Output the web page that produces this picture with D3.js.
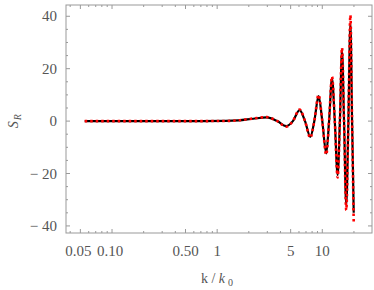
<!DOCTYPE html>
<html>
<head>
<meta charset="utf-8">
<script src="https://cdn.jsdelivr.net/npm/d3@7"></script>
<style>
  body { margin: 0; background: #fff; }
  text { font-family: "Liberation Serif", "DejaVu Serif", serif; }
</style>
</head>
<body>
<div id="chart"></div>
<script>
// k / k0 sample points (shared by both curves)
const kValues = [0.055, 0.1, 0.3, 0.7, 1.2, 1.6, 2.2, 2.97, 3.73, 4.54, 5.25, 6.08, 6.85, 7.69, 8.4, 9.22, 10.0, 10.9, 11.6, 12.37, 13.15, 13.99, 14.7, 15.4, 16.1, 16.9, 17.7, 18.5, 19.2, 19.9];
// exact S_R (solid black)
const exactValues = [0, 0, 0, 0, 0.05, 0.25, 0.9, 1.4, 0, -1.9, 0, 4.2, 0, -6.0, 0, 9.5, 0, -12.3, 0, 16.3, 0, -20.6, 0, 27.0, 0, -32.0, 0, 37.2, 0, -35.0];
// approximation (red dotted)
const approxValues = [0, 0, 0, 0, 0.05, 0.3, 1.0, 1.5, 0, -2.1, 0, 4.4, 0, -6.3, 0, 10.0, 0, -12.8, 0, 17.0, 0, -21.5, 0, 28.0, 0, -34.0, 0, 40.4, 0, -38.7];

const xTickValues = [0.05, 0.1, 0.5, 1, 5, 10];
const xTickLabels = ["0.05", "0.10", "0.50", "1", "5", "10"];
const yTickValues = [-40, -20, 0, 20, 40];
const yTickLabels = ["\u2212 40", "\u2212 20", "0", "20", "40"];

const W = 374, H = 290;
const margin = { top: 5, right: 2, bottom: 57, left: 66 };
const width = W - margin.left - margin.right;
const height = H - margin.top - margin.bottom;

const svg = d3.select("#chart")
  .append("svg")
  .attr("width", W)
  .attr("height", H)
  .append("g")
  .attr("transform", `translate(${margin.left},${margin.top})`);

const x = d3.scaleLog()
  .domain([0.0365, 29.7])
  .range([0, width]);

const y = d3.scaleLinear()
  .domain([-42.7, 44.3])
  .range([height, 0]);

const frameColor = "#999";
const labelColor = "#555";

// minor ticks
const xMinor = [];
[0.01, 0.1, 1, 10].forEach(d => {
  for (let m = 1; m <= 9; m++) {
    const v = d * m;
    if (v > 0.0365 && v < 29.7 && !xTickValues.includes(+v.toFixed(4))) xMinor.push(v);
  }
});
const yMinor = d3.range(-40, 45, 5).filter(v => v % 20 !== 0);

const ticks = svg.append("g").attr("stroke", frameColor).attr("stroke-width", 1);

// bottom + top ticks
xTickValues.forEach(v => {
  ticks.append("line").attr("x1", x(v)).attr("x2", x(v)).attr("y1", height).attr("y2", height - 4);
  ticks.append("line").attr("x1", x(v)).attr("x2", x(v)).attr("y1", 0).attr("y2", 4);
});
xMinor.forEach(v => {
  ticks.append("line").attr("x1", x(v)).attr("x2", x(v)).attr("y1", height).attr("y2", height - 2);
  ticks.append("line").attr("x1", x(v)).attr("x2", x(v)).attr("y1", 0).attr("y2", 2);
});
// left + right ticks
yTickValues.forEach(v => {
  ticks.append("line").attr("y1", y(v)).attr("y2", y(v)).attr("x1", 0).attr("x2", 4);
  ticks.append("line").attr("y1", y(v)).attr("y2", y(v)).attr("x1", width).attr("x2", width - 4);
});
yMinor.forEach(v => {
  ticks.append("line").attr("y1", y(v)).attr("y2", y(v)).attr("x1", 0).attr("x2", 2);
  ticks.append("line").attr("y1", y(v)).attr("y2", y(v)).attr("x1", width).attr("x2", width - 2);
});

// frame
svg.append("rect")
  .attr("x", 0).attr("y", 0)
  .attr("width", width).attr("height", height)
  .attr("fill", "none")
  .attr("stroke", frameColor)
  .attr("stroke-width", 1);

// tick labels
svg.selectAll(".xlab")
  .data(xTickValues)
  .join("text")
  .attr("x", (d, i) => x(d) + (i === 0 ? -2 : i === 1 ? -2 : 0))
  .attr("y", height + 23)
  .attr("text-anchor", "middle")
  .attr("font-size", "15px")
  .attr("fill", labelColor)
  .text((d, i) => xTickLabels[i]);

svg.selectAll(".ylab")
  .data(yTickValues)
  .join("text")
  .attr("x", -9)
  .attr("y", d => y(d) + 5)
  .attr("text-anchor", "end")
  .attr("font-size", "15px")
  .attr("fill", labelColor)
  .text((d, i) => yTickLabels[i]);

// axis titles
const xTitle = svg.append("text")
  .attr("x", width / 2 - 2)
  .attr("y", height + 50)
  .attr("text-anchor", "middle")
  .attr("font-size", "14px")
  .attr("fill", labelColor);
xTitle.append("tspan").text("k / ");
xTitle.append("tspan").attr("font-style", "italic").text("k");
xTitle.append("tspan").attr("font-size", "10px").attr("dx", 3).attr("dy", 3).text("0");

const yTitle = svg.append("text")
  .attr("transform", `translate(${-48},${y(0)}) rotate(-90)`)
  .attr("text-anchor", "middle")
  .attr("font-size", "14px")
  .attr("fill", labelColor);
yTitle.append("tspan").attr("font-style", "italic").text("S");
yTitle.append("tspan").attr("font-size", "10px").attr("font-style", "italic").attr("dx", 1).attr("dy", 3).text("R");

// curves
const exactData = kValues.map((k, i) => ({ k, v: exactValues[i] }));
const approxData = kValues.map((k, i) => ({ k, v: approxValues[i] }));

const line = d3.line()
  .x(d => x(d.k))
  .y(d => y(d.v))
  .curve(d3.curveMonotoneX);

svg.append("path")
  .datum(exactData)
  .attr("fill", "none")
  .attr("stroke", "#000")
  .attr("stroke-width", 2.2)
  .attr("d", line);

svg.append("path")
  .datum(approxData)
  .attr("fill", "none")
  .attr("stroke", "#f00")
  .attr("stroke-width", 2.6)
  .attr("stroke-dasharray", "2.5,3")
  .attr("d", line);
</script>
</body>
</html>
